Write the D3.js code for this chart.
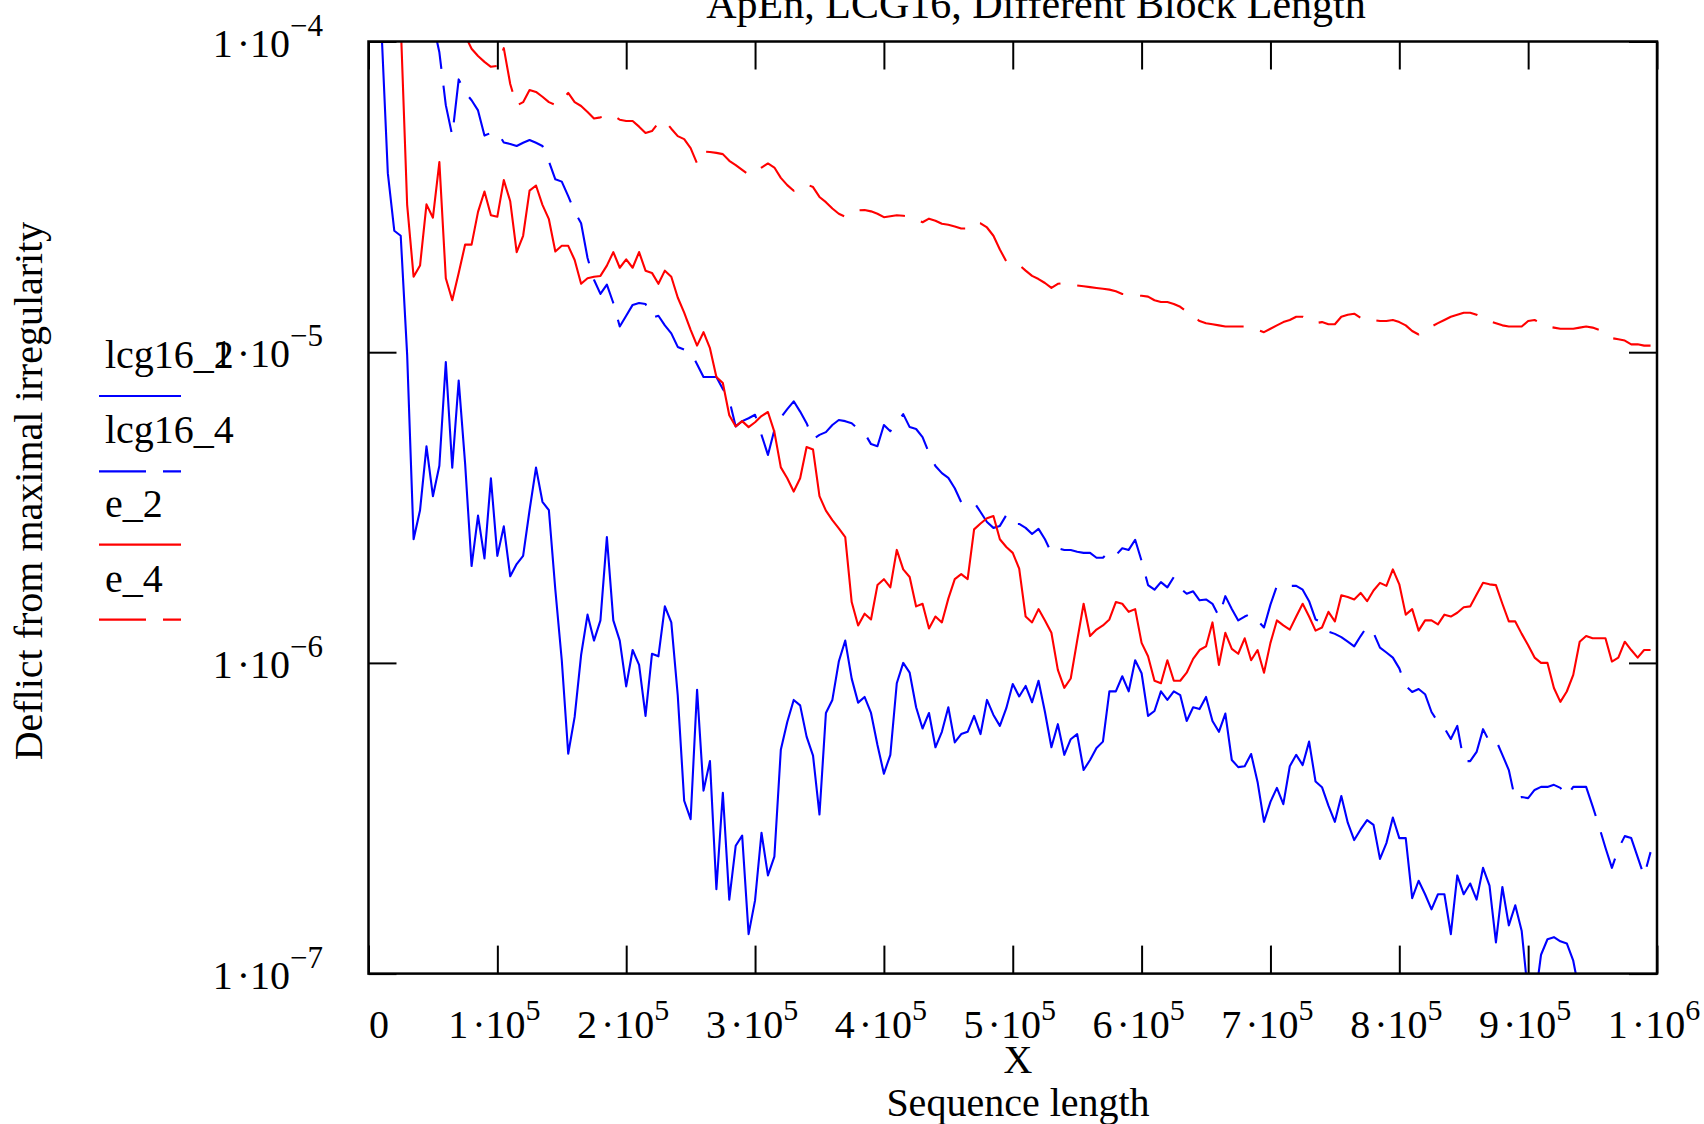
<!DOCTYPE html>
<html><head><meta charset="utf-8">
<script src="https://cdn.jsdelivr.net/npm/d3@7"></script>
<style>
html,body{margin:0;padding:0;background:#fff;}
svg{display:block;}
text{font-family:"Liberation Serif","Times New Roman",Times,serif;fill:#000;}
</style></head><body>
<svg id="chart" width="1704" height="1124"></svg>
<script>
// ---------------- data ----------------
const chartTitle = "ApEn, LCG16, Different Block Length";
const xAxisName = "X";
const xAxisTitle = "Sequence length";
const yAxisTitle = "Deflict from maximal irregularity";
const seriesNames = ["lcg16_2", "lcg16_4", "e_2", "e_4"];
const xTickValues = [0, 1e5, 2e5, 3e5, 4e5, 5e5, 6e5, 7e5, 8e5, 9e5, 1e6];
const xTickMantissa = ["0", "1", "2", "3", "4", "5", "6", "7", "8", "9", "1"];
const xTickExponent = ["", "5", "5", "5", "5", "5", "5", "5", "5", "5", "6"];
const yTickValues = [1e-4, 1e-5, 1e-6, 1e-7];
const yTickExponent = ["\u22124", "\u22125", "\u22126", "\u22127"];
// sequence lengths: 5000, 10000, ..., 995000
const seqLength = d3.range(1, 200).map(k => k * 5000);

const lcg16_2 = [null,1.11e-4,3.77e-5,2.46e-5,2.37e-5,9.8e-6,2.5e-6,3.1e-6,4.98e-6,3.44e-6,
4.31e-6,9.3e-6,4.25e-6,8.1e-6,4.37e-6,2.05e-6,2.98e-6,2.17e-6,3.93e-6,2.21e-6,
2.75e-6,1.9e-6,2.08e-6,2.21e-6,3.1e-6,4.25e-6,3.3e-6,3.1e-6,1.72e-6,1.02e-6,
5.1e-7,6.7e-7,1.06e-6,1.43e-6,1.18e-6,1.37e-6,2.54e-6,1.37e-6,1.18e-6,8.4e-7,
1.1e-6,9.85e-7,6.75e-7,1.07e-6,1.05e-6,1.52e-6,1.35e-6,7.87e-7,3.6e-7,3.14e-7,
8.2e-7,3.88e-7,4.83e-7,1.87e-7,3.82e-7,1.73e-7,2.58e-7,2.78e-7,1.34e-7,1.72e-7,
2.84e-7,2.07e-7,2.38e-7,5.25e-7,6.45e-7,7.6e-7,7.3e-7,5.79e-7,5.03e-7,3.25e-7,
6.9e-7,7.6e-7,1.01e-6,1.18e-6,8.9e-7,7.45e-7,7.77e-7,6.9e-7,5.44e-7,4.4e-7,
5.06e-7,8.6e-7,1.0e-6,9.3e-7,7.2e-7,6.15e-7,6.9e-7,5.35e-7,6.0e-7,7.2e-7,
5.55e-7,5.9e-7,6.0e-7,6.75e-7,5.9e-7,7.6e-7,6.8e-7,6.27e-7,7.15e-7,8.55e-7,
7.8e-7,8.43e-7,7.47e-7,8.76e-7,6.95e-7,5.35e-7,6.35e-7,5.06e-7,5.68e-7,5.9e-7,
4.52e-7,4.87e-7,5.32e-7,5.58e-7,8.1e-7,8.1e-7,9.06e-7,8.1e-7,1.02e-6,9.26e-7,
6.75e-7,7.0e-7,8.1e-7,7.6e-7,8.1e-7,7.87e-7,6.5e-7,7.2e-7,7.1e-7,7.77e-7,
6.5e-7,6.0e-7,6.87e-7,4.87e-7,4.62e-7,4.65e-7,5.09e-7,4.14e-7,3.08e-7,3.57e-7,
3.96e-7,3.51e-7,4.65e-7,5.06e-7,4.69e-7,5.58e-7,4.15e-7,3.98e-7,3.47e-7,3.08e-7,
3.73e-7,3.06e-7,2.69e-7,2.91e-7,3.12e-7,3.01e-7,2.34e-7,2.63e-7,3.18e-7,2.73e-7,
2.73e-7,1.75e-7,1.99e-7,1.8e-7,1.61e-7,1.8e-7,1.8e-7,1.34e-7,2.07e-7,1.8e-7,
1.95e-7,1.73e-7,2.19e-7,1.92e-7,1.26e-7,1.9e-7,1.43e-7,1.66e-7,1.37e-7,8.5e-8,
8e-8,1.15e-7,1.29e-7,1.31e-7,1.27e-7,1.25e-7,1.1e-7,8.6e-8,null,null,
null,null,null,null,null,null,null,null,null];

const lcg16_4 = [null,null,null,null,null,null,null,null,null,1.15e-4,
9.23e-5,6.24e-5,4.98e-5,7.55e-5,6.85e-5,6.47e-5,6.0e-5,4.98e-5,5.08e-5,5.12e-5,
4.73e-5,4.68e-5,4.61e-5,4.72e-5,4.82e-5,4.72e-5,4.61e-5,4.11e-5,3.6e-5,3.54e-5,
3.18e-5,2.83e-5,2.6e-5,2.01e-5,1.71e-5,1.54e-5,1.65e-5,1.44e-5,1.21e-5,1.31e-5,
1.42e-5,1.44e-5,1.43e-5,1.29e-5,1.31e-5,1.22e-5,1.15e-5,1.04e-5,1.02e-5,1.0e-5,
9.15e-6,8.32e-6,8.32e-6,8.32e-6,7.62e-6,7.02e-6,5.77e-6,6.0e-6,6.13e-6,6.29e-6,
5.42e-6,4.67e-6,5.62e-6,6.16e-6,6.56e-6,6.95e-6,6.44e-6,5.91e-6,5.25e-6,5.42e-6,
5.53e-6,5.83e-6,6.05e-6,6.0e-6,5.91e-6,5.66e-6,5.49e-6,5.06e-6,4.98e-6,5.83e-6,
5.57e-6,5.91e-6,6.32e-6,5.74e-6,5.66e-6,5.33e-6,4.74e-6,4.3e-6,4.08e-6,3.94e-6,
3.65e-6,3.29e-6,3.27e-6,3.29e-6,3.06e-6,2.84e-6,2.72e-6,2.76e-6,2.99e-6,2.8e-6,
2.8e-6,2.72e-6,2.6e-6,2.7e-6,2.5e-6,2.26e-6,2.34e-6,2.31e-6,2.31e-6,2.28e-6,
2.26e-6,2.26e-6,2.18e-6,2.18e-6,2.29e-6,2.22e-6,2.34e-6,2.31e-6,2.49e-6,2.13e-6,
1.78e-6,1.72e-6,1.82e-6,1.75e-6,1.89e-6,1.74e-6,1.67e-6,1.7e-6,1.59e-6,1.6e-6,
1.55e-6,1.41e-6,1.64e-6,1.49e-6,1.37e-6,1.41e-6,1.44e-6,1.37e-6,1.3e-6,1.54e-6,
1.77e-6,1.77e-6,1.77e-6,1.77e-6,1.72e-6,1.58e-6,1.38e-6,1.35e-6,1.26e-6,1.24e-6,
1.21e-6,1.17e-6,1.13e-6,1.22e-6,1.31e-6,1.25e-6,1.12e-6,1.08e-6,1.04e-6,9.6e-7,
8.43e-7,8.06e-7,8.24e-7,7.93e-7,6.95e-7,6.45e-7,6.17e-7,5.69e-7,6.27e-7,4.83e-7,
4.83e-7,5.17e-7,6.12e-7,5.57e-7,5.65e-7,5.06e-7,4.52e-7,3.62e-7,3.7e-7,3.67e-7,
3.9e-7,3.99e-7,3.99e-7,4.05e-7,3.96e-7,3.72e-7,3.99e-7,3.99e-7,3.99e-7,3.46e-7,
2.98e-7,2.54e-7,2.19e-7,2.52e-7,2.77e-7,2.73e-7,2.37e-7,2.06e-7,2.46e-7];

const e_2 = [null,null,null,null,1.15e-4,2.98e-5,1.75e-5,1.9e-5,2.99e-5,2.71e-5,
4.09e-5,1.73e-5,1.47e-5,1.8e-5,2.22e-5,2.22e-5,2.83e-5,3.29e-5,2.76e-5,2.73e-5,
3.58e-5,3.06e-5,2.1e-5,2.37e-5,3.31e-5,3.44e-5,2.98e-5,2.68e-5,2.11e-5,2.2e-5,
2.2e-5,1.98e-5,1.66e-5,1.73e-5,1.75e-5,1.76e-5,1.9e-5,2.1e-5,1.87e-5,1.99e-5,
1.87e-5,2.1e-5,1.83e-5,1.8e-5,1.66e-5,1.83e-5,1.75e-5,1.5e-5,1.34e-5,1.18e-5,
1.05e-5,1.16e-5,1.03e-5,8.32e-6,7.96e-6,6.27e-6,5.77e-6,6.0e-6,5.74e-6,5.95e-6,
6.23e-6,6.42e-6,5.54e-6,4.26e-6,3.93e-6,3.56e-6,3.93e-6,4.95e-6,4.86e-6,3.44e-6,
3.09e-6,2.88e-6,2.71e-6,2.54e-6,1.57e-6,1.32e-6,1.44e-6,1.38e-6,1.78e-6,1.86e-6,
1.75e-6,2.31e-6,2.0e-6,1.89e-6,1.52e-6,1.55e-6,1.29e-6,1.41e-6,1.35e-6,1.61e-6,
1.86e-6,1.93e-6,1.86e-6,2.69e-6,2.81e-6,2.92e-6,2.97e-6,2.5e-6,2.36e-6,2.26e-6,
2.01e-6,1.41e-6,1.35e-6,1.49e-6,1.37e-6,1.25e-6,9.5e-7,8.31e-7,8.91e-7,1.18e-6,
1.55e-6,1.22e-6,1.28e-6,1.32e-6,1.38e-6,1.57e-6,1.55e-6,1.46e-6,1.49e-6,1.16e-6,
1.05e-6,8.76e-7,8.6e-7,1.02e-6,8.76e-7,8.76e-7,9.3e-7,1.03e-6,1.1e-6,1.13e-6,
1.35e-6,9.85e-7,1.25e-6,1.11e-6,1.07e-6,1.2e-6,1.02e-6,1.1e-6,9.3e-7,1.16e-6,
1.37e-6,1.32e-6,1.28e-6,1.41e-6,1.55e-6,1.41e-6,1.27e-6,1.3e-6,1.46e-6,1.36e-6,
1.65e-6,1.63e-6,1.6e-6,1.68e-6,1.58e-6,1.71e-6,1.81e-6,1.77e-6,2.0e-6,1.79e-6,
1.43e-6,1.49e-6,1.27e-6,1.37e-6,1.37e-6,1.33e-6,1.43e-6,1.41e-6,1.45e-6,1.51e-6,
1.52e-6,1.66e-6,1.81e-6,1.79e-6,1.78e-6,1.55e-6,1.36e-6,1.36e-6,1.24e-6,1.14e-6,
1.04e-6,1.0e-6,1.0e-6,8.3e-7,7.49e-7,8.09e-7,9.15e-7,1.17e-6,1.22e-6,1.2e-6,
1.2e-6,1.2e-6,1.01e-6,1.04e-6,1.17e-6,1.1e-6,1.04e-6,1.1e-6,1.1e-6];

const e_4 = [null,null,null,null,null,null,null,null,null,null,
null,null,null,null,1.045e-4,9.48e-5,8.98e-5,8.6e-5,8.29e-5,8.35e-5,
9.52e-5,7.3e-5,6.22e-5,6.38e-5,6.98e-5,6.88e-5,6.64e-5,6.38e-5,6.25e-5,6.46e-5,
6.83e-5,6.38e-5,6.2e-5,5.93e-5,5.65e-5,5.7e-5,5.77e-5,5.8e-5,5.6e-5,5.55e-5,
5.55e-5,5.32e-5,5.08e-5,5.15e-5,5.47e-5,5.55e-5,5.24e-5,4.96e-5,4.85e-5,4.54e-5,
4.05e-5,4.42e-5,4.41e-5,4.38e-5,4.34e-5,4.13e-5,4.0e-5,3.86e-5,3.73e-5,3.8e-5,
3.93e-5,4.05e-5,3.93e-5,3.64e-5,3.45e-5,3.31e-5,3.39e-5,3.47e-5,3.4e-5,3.16e-5,
3.04e-5,2.9e-5,2.79e-5,2.73e-5,2.8e-5,2.86e-5,2.87e-5,2.84e-5,2.79e-5,2.72e-5,
2.74e-5,2.76e-5,2.75e-5,2.73e-5,2.67e-5,2.62e-5,2.69e-5,2.65e-5,2.59e-5,2.57e-5,
2.54e-5,2.5e-5,2.5e-5,2.61e-5,2.6e-5,2.52e-5,2.37e-5,2.14e-5,1.96e-5,1.93e-5,
1.91e-5,1.83e-5,1.76e-5,1.72e-5,1.67e-5,1.61e-5,1.66e-5,1.67e-5,1.65e-5,1.64e-5,
1.63e-5,1.62e-5,1.61e-5,1.6e-5,1.59e-5,1.57e-5,1.54e-5,1.53e-5,1.52e-5,1.52e-5,
1.51e-5,1.47e-5,1.45e-5,1.45e-5,1.43e-5,1.4e-5,1.35e-5,1.3e-5,1.26e-5,1.24e-5,
1.23e-5,1.22e-5,1.21e-5,1.21e-5,1.21e-5,1.21e-5,1.2e-5,1.18e-5,1.16e-5,1.19e-5,
1.22e-5,1.25e-5,1.27e-5,1.3e-5,1.3e-5,1.27e-5,1.24e-5,1.25e-5,1.23e-5,1.23e-5,
1.3e-5,1.32e-5,1.33e-5,1.29e-5,1.26e-5,1.27e-5,1.26e-5,1.26e-5,1.27e-5,1.25e-5,
1.22e-5,1.17e-5,1.14e-5,1.18e-5,1.21e-5,1.24e-5,1.27e-5,1.3e-5,1.32e-5,1.34e-5,
1.34e-5,1.32e-5,1.29e-5,1.26e-5,1.24e-5,1.22e-5,1.21e-5,1.21e-5,1.21e-5,1.26e-5,
1.27e-5,1.24e-5,1.21e-5,1.2e-5,1.19e-5,1.19e-5,1.19e-5,1.2e-5,1.21e-5,1.2e-5,
1.18e-5,1.15e-5,1.11e-5,1.1e-5,1.09e-5,1.06e-5,1.06e-5,1.05e-5,1.05e-5];

const seriesColors = ["#0000ff", "#0000ff", "#ff0000", "#ff0000"];
const seriesDashes = [null, "47,17", null, "47,17"];

// ---------------- drawing ----------------
const svg = d3.select("#chart");
const plot = {left: 368.5, right: 1657, top: 41.5, bottom: 973.6};

const x = d3.scaleLinear().domain([0, 1e6]).range([plot.left, plot.right]);
const y = d3.scaleLog().domain([1e-7, 1e-4]).range([plot.bottom, plot.top]);

svg.append("defs").append("clipPath").attr("id", "plotClip")
  .append("rect")
  .attr("x", plot.left).attr("y", plot.top)
  .attr("width", plot.right - plot.left).attr("height", plot.bottom - plot.top);

// series lines
const allSeries = [lcg16_2, lcg16_4, e_2, e_4];
const line = d3.line()
  .defined(d => d.v != null)
  .x(d => x(d.x))
  .y(d => y(d.v));

const gLines = svg.append("g").attr("clip-path", "url(#plotClip)");
allSeries.forEach((vals, i) => {
  const pts = seqLength.map((s, j) => ({x: s, v: vals[j]}));
  const p = gLines.append("path")
    .attr("d", line(pts))
    .attr("fill", "none")
    .attr("stroke", seriesColors[i])
    .attr("stroke-width", 2.1)
    .attr("stroke-linejoin", "round");
  if (seriesDashes[i]) p.attr("stroke-dasharray", seriesDashes[i]);
});

// ticks (inside) via d3 axes
const tickLen = 28;
function styleAxis(g) {
  g.select(".domain").remove();
  g.selectAll(".tick line").attr("stroke", "#000").attr("stroke-width", 2);
  g.selectAll(".tick text").remove();
}
svg.append("g").attr("transform", `translate(0,${plot.bottom})`)
  .call(d3.axisTop(x).tickValues(xTickValues).tickSizeInner(tickLen).tickSizeOuter(0).tickFormat(""))
  .call(styleAxis);
svg.append("g").attr("transform", `translate(0,${plot.top})`)
  .call(d3.axisBottom(x).tickValues(xTickValues).tickSizeInner(tickLen).tickSizeOuter(0).tickFormat(""))
  .call(styleAxis);
svg.append("g").attr("transform", `translate(${plot.left},0)`)
  .call(d3.axisRight(y).tickValues(yTickValues).tickSizeInner(tickLen).tickSizeOuter(0).tickFormat(""))
  .call(styleAxis);
svg.append("g").attr("transform", `translate(${plot.right},0)`)
  .call(d3.axisLeft(y).tickValues(yTickValues).tickSizeInner(tickLen).tickSizeOuter(0).tickFormat(""))
  .call(styleAxis);

// frame
svg.append("rect")
  .attr("x", plot.left).attr("y", plot.top)
  .attr("width", plot.right - plot.left).attr("height", plot.bottom - plot.top)
  .attr("fill", "none").attr("stroke", "#000").attr("stroke-width", 2.5);

// x tick labels
const gx = svg.append("g");
xTickValues.forEach((v, i) => {
  const t = gx.append("text")
    .attr("x", v === 0 ? x(v) + 10.5 : x(v) - 3)
    .attr("y", 1038)
    .attr("text-anchor", "middle")
    .attr("font-size", 40);
  t.append("tspan").text(xTickMantissa[i]);
  if (xTickExponent[i]) {
    t.append("tspan").attr("dx", 4).text("\u00B710");
    t.append("tspan").attr("dy", -18).attr("font-size", 30).text(xTickExponent[i]);
  }
});

// y tick labels
const gy = svg.append("g");
yTickValues.forEach((v, i) => {
  const t = gy.append("text")
    .attr("x", 323)
    .attr("y", y(v) + 15)
    .attr("text-anchor", "end")
    .attr("font-size", 40);
  t.append("tspan").text("1");
  t.append("tspan").attr("dx", 4).text("\u00B710");
  t.append("tspan").attr("dy", -21).attr("font-size", 31).text(yTickExponent[i]);
});

// titles
svg.append("text").attr("x", 1036).attr("y", 18).attr("text-anchor", "middle")
  .attr("font-size", 42).text(chartTitle);
svg.append("text").attr("x", 1018).attr("y", 1073).attr("text-anchor", "middle")
  .attr("font-size", 40).text(xAxisName);
svg.append("text").attr("x", 1018).attr("y", 1116).attr("text-anchor", "middle")
  .attr("font-size", 40).text(xAxisTitle);
svg.append("text")
  .attr("transform", "translate(42,491) rotate(-90)")
  .attr("text-anchor", "middle")
  .attr("font-size", 40).text(yAxisTitle);

// legend
const legendTextY = [368, 443.3, 516.7, 591.7];
const gl = svg.append("g");
seriesNames.forEach((name, i) => {
  gl.append("text").attr("x", 105).attr("y", legendTextY[i])
    .attr("font-size", 40).text(name);
  const l = gl.append("line")
    .attr("x1", 99).attr("x2", 181)
    .attr("y1", legendTextY[i] + 28).attr("y2", legendTextY[i] + 28)
    .attr("stroke", seriesColors[i]).attr("stroke-width", 2.2);
  if (seriesDashes[i]) l.attr("stroke-dasharray", seriesDashes[i]);
});
</script>
</body></html>
